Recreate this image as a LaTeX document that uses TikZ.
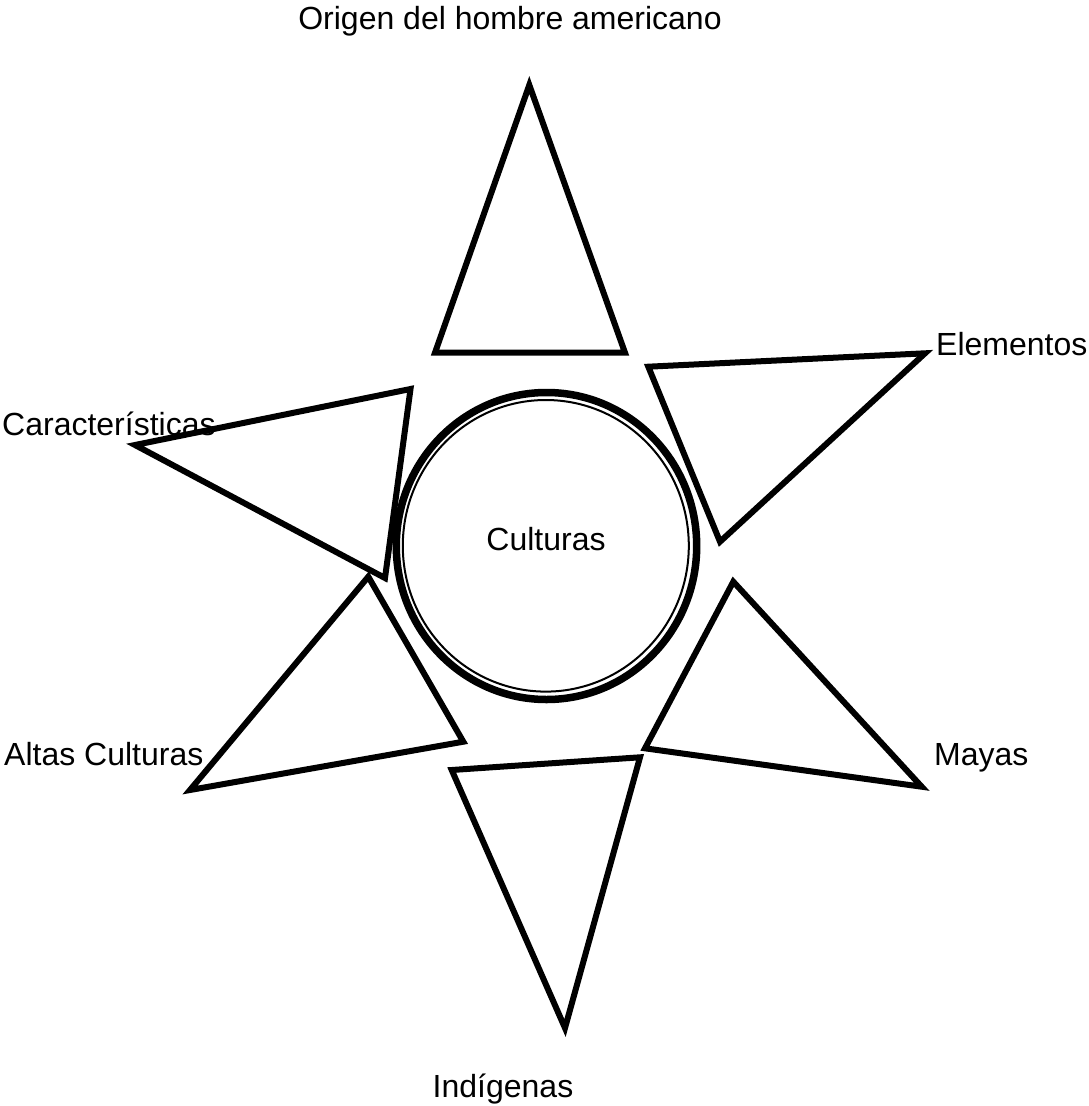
\documentclass[tikz,border=0pt]{standalone}
\usepackage{fontspec}
\setmainfont{Liberation Sans}
\begin{document}
\begin{tikzpicture}[x=1pt,y=-1pt,
  tri/.style={draw=black,line width=6pt,line join=miter},
  lbl/.style={inner sep=0pt,font=\fontsize{32}{38}\selectfont}]
\useasboundingbox (0,0) rectangle (1089,1106);
% central double circle
\draw[line width=7.5pt] (546.5,546) ellipse [x radius=150.2pt, y radius=153.5pt];
\draw[line width=2pt] (545.8,545.8) ellipse [x radius=143pt, y radius=145.8pt];
\node[lbl,anchor=base] (cult) at (546,550) {Culturas};
% triangles
\draw[tri] (529.3,85) -- (435,352.7) -- (625,352.7) -- cycle;
\draw[tri] (648.3,366.7) -- (925,353.3) -- (720,541.7) -- cycle;
\draw[tri] (135,445) -- (410.5,389) -- (385,578) -- cycle;
\draw[tri] (368.3,576.7) -- (463.3,741.7) -- (190,790) -- cycle;
\draw[tri] (451.7,770) -- (640,757.3) -- (565,1028) -- cycle;
\draw[tri] (733.3,581.7) -- (921.7,786.7) -- (645,748.3) -- cycle;
% labels
\node[lbl,anchor=base] (origen) at (510,29) {Origen del hombre americano};
\node[lbl,anchor=base west] (caract) at (2,435) {Características};
\node[lbl,anchor=base west] (elem) at (936,355) {Elementos};
\node[lbl,anchor=base west] (altas) at (4,765) {Altas Culturas};
\node[lbl,anchor=base west] (mayas) at (934,765) {Mayas};
\node[lbl,anchor=base] (indig) at (503,1097) {Indígenas};
\end{tikzpicture}
\end{document}
